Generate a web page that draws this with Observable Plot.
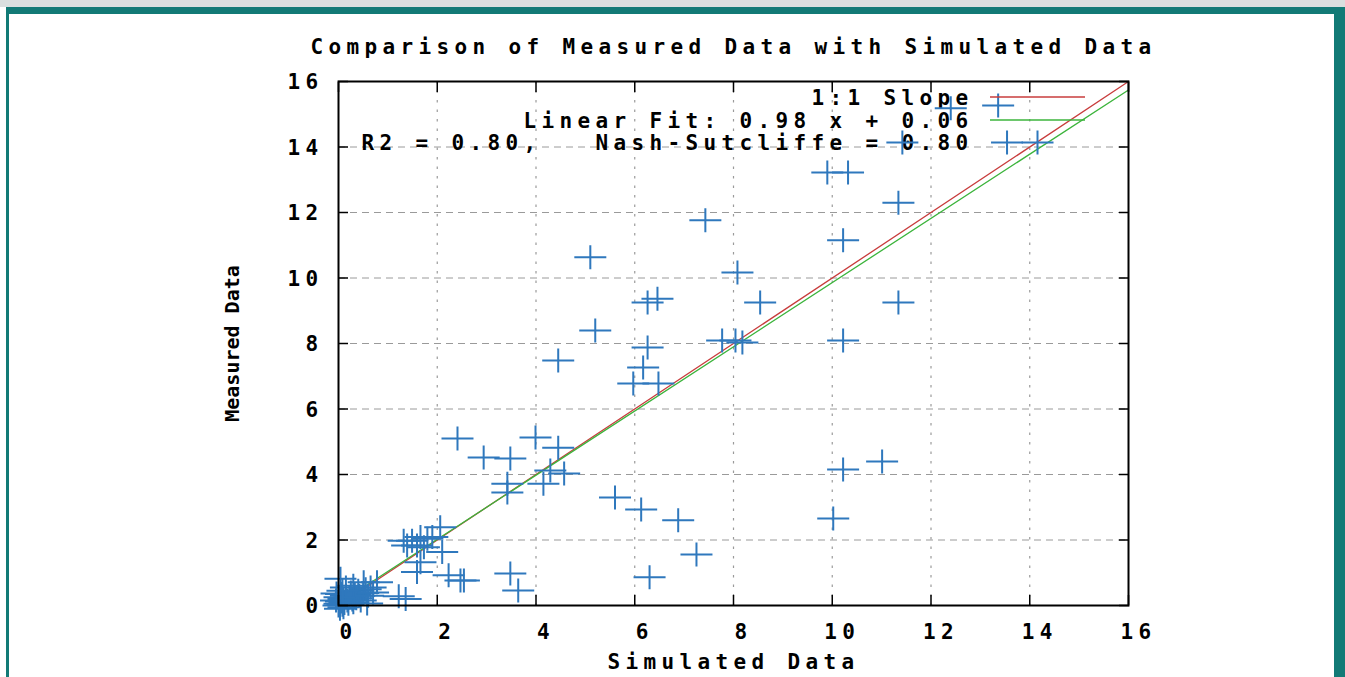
<!DOCTYPE html>
<html>
<head>
<meta charset="utf-8">
<script src="https://cdn.jsdelivr.net/npm/d3@7"></script>
<script src="https://cdn.jsdelivr.net/npm/@observablehq/plot@0.6"></script>
<style>
html,body{margin:0;padding:0;width:1345px;height:677px;overflow:hidden;background:#fff;}
#topbar{position:absolute;left:0;top:0;width:1345px;height:7px;background:#dadfdf;}
#border{position:absolute;left:6px;top:7px;width:1339px;height:670px;box-sizing:border-box;
  border-top:7px solid #127a76;border-left:3px solid #127a76;border-right:11px solid #127a76;background:#fff;}
#chart{position:absolute;left:0;top:0;}
svg text{white-space:pre;font-weight:bold;}
</style>
</head>
<body>
<div id="topbar"></div>
<div id="border"></div>
<div id="chart"></div>
<script>
// ---- data ----
const simulated = [
  12.40, 13.36, 11.42, 13.54, 9.90, 10.32, 11.34, 10.22, 7.43, 5.10,
  8.08, 8.54, 11.34, 6.26, 6.46, 5.20, 7.77, 8.04, 8.18, 10.22,
  4.45, 6.26, 6.17, 5.97, 6.48, 2.41, 3.99, 4.45, 2.94, 3.48,
  3.42, 3.42, 4.29, 4.15, 4.57, 5.60, 6.13, 6.88, 7.25, 6.30,
  10.02, 10.22, 11.01, 3.48, 3.64, 2.47,
  1.49, 1.66, 1.80, 1.90, 1.39, 1.59, 1.73, 2.06, 2.10, 1.66,
  1.59, 2.23, 2.54, 1.32,
  0.04, 0.51, 0.78, 0.58, 1.22, 1.36, -0.04, 0.02, 0.05, 0.08,
  0.10, 0.12, 0.15, 0.18, 0.20, 0.22, 0.25, 0.28, 0.30, 0.33,
  0.36, 0.40, 0.42, 0.45, 0.50, 0.55, 0.60, 0.65, 0.70, 0.05,
  0.00, 0.03, 0.10, -0.05, 0.15, 0.30, 0.02, 0.08
];
const measured = [
  15.18, 15.27, 14.14, 14.14, 13.22, 13.22, 12.30, 11.15, 11.76, 10.63,
  10.17, 9.25, 9.25, 9.25, 9.37, 8.40, 8.09, 8.09, 8.03, 8.09,
  7.48, 7.88, 7.27, 6.78, 6.78, 5.10, 5.13, 4.82, 4.52, 4.49,
  3.72, 3.45, 4.12, 3.72, 4.03, 3.30, 2.93, 2.60, 1.56, 0.86,
  2.66, 4.15, 4.40, 0.98, 0.46, 0.76,
  1.98, 2.09, 2.04, 2.09, 1.83, 1.83, 1.78, 2.39, 1.63, 1.32,
  1.02, 0.92, 0.76, 1.98,
  0.82, 0.71, 0.71, 0.06, 0.28, 0.20, 0.37, 0.05, 0.12, 0.02,
  0.20, 0.08, 0.30, 0.15, 0.05, 0.25, 0.40, 0.18, 0.10, 0.32,
  0.22, 0.45, 0.30, 0.15, 0.38, 0.50, 0.30, 0.55, 0.40, 0.35,
  0.00, -0.10, -0.05, 0.15, 0.55, 0.60, 0.25, 0.45
];
const xTicks = [0, 2, 4, 6, 8, 10, 12, 14, 16];
const yTicks = [0, 2, 4, 6, 8, 10, 12, 14, 16];
const gridTicks = [2, 4, 6, 8, 10, 12, 14];
const fitSlope = 0.98, fitIntercept = 0.06;
const r2 = "0.80", nashSutcliffe = "0.80";
const lineRange = [0, 16];
const titleText = "Comparison of Measured Data with Simulated Data";
const xLabel = "Simulated Data";
const yLabel = "Measured Data";
const legendLabels = [
  "1:1 Slope",
  `Linear Fit: ${fitSlope.toFixed(2)} x + ${fitIntercept.toFixed(2)}`,
  `R2 = ${r2},   Nash-Sutcliffe = ${nashSutcliffe}`
];

// ---- derived tables ----
const points = simulated.map((s, i) => ({sim: s, meas: measured[i]}));
const oneToOne = lineRange.map(x => ({x, y: x}));
const fitLine = lineRange.map(x => ({x, y: fitSlope * x + fitIntercept}));

const cross = {
  draw(context, size) {
    const r = Math.sqrt(size / Math.PI);
    context.moveTo(-r, 0); context.lineTo(r, 0);
    context.moveTo(0, -0.75 * r); context.lineTo(0, 0.75 * r);
  }
};
const blue = "#2f78bd", red = "#c83c3c", green = "#3cb43c";

const chart = Plot.plot({
  width: 1345, height: 677,
  marginLeft: 338, marginRight: 217, marginTop: 81, marginBottom: 72,
  x: {domain: [0, 16]},
  y: {domain: [0, 16]},
  style: {fontFamily: "'DejaVu Sans Mono', monospace", fontWeight: "bold", fontSize: "21px",
          letterSpacing: "5.36px", background: "transparent", color: "#000", overflow: "visible"},
  marks: [
    Plot.gridX(gridTicks, {stroke: "#9a9a9a", strokeOpacity: 1, strokeWidth: 1.2, strokeDasharray: "2.5,7"}),
    Plot.gridY(gridTicks, {stroke: "#9a9a9a", strokeOpacity: 1, strokeWidth: 1, strokeDasharray: "7,5"}),
    Plot.line(oneToOne, {x: "x", y: "y", stroke: red, strokeWidth: 1.3}),
    Plot.line(fitLine, {x: "x", y: "y", stroke: green, strokeWidth: 1.3}),
    Plot.text([legendLabels[0]], {text: d => d, frameAnchor: "top-right", textAnchor: "end", lineAnchor: "middle", dx: -155, dy: 17}),
    Plot.text([legendLabels[1]], {text: d => d, frameAnchor: "top-right", textAnchor: "end", lineAnchor: "middle", dx: -155, dy: 40}),
    Plot.text([legendLabels[2]], {text: d => d, frameAnchor: "top-right", textAnchor: "end", lineAnchor: "middle", dx: -155, dy: 62}),
    Plot.dot(points, {x: "sim", y: "meas", symbol: cross, r: 16, fill: "none", stroke: blue, strokeWidth: 2}),
    Plot.dot([0], {frameAnchor: "top-right", dx: -91, dy: 61, symbol: cross, r: 16, fill: "none", stroke: blue, strokeWidth: 2}),
    Plot.frame({stroke: "#000", strokeWidth: 2}),
    Plot.axisX({ticks: xTicks, anchor: "bottom", tickSize: -10, fill: "none", label: null, strokeWidth: 1.5}),
    Plot.axisX({ticks: xTicks, anchor: "top", tickSize: -10, fill: "none", label: null, strokeWidth: 1.5}),
    Plot.axisY({ticks: yTicks, anchor: "left", tickSize: -10, fill: "none", label: null, strokeWidth: 1.5}),
    Plot.axisY({ticks: yTicks, anchor: "right", tickSize: -10, fill: "none", label: null, strokeWidth: 1.5}),
    Plot.axisX({ticks: xTicks, anchor: "bottom", tickSize: 0, tickPadding: 19, label: null, dx: 10}),
    Plot.axisY({ticks: yTicks, anchor: "left", tickSize: 0, tickPadding: 15, label: null, dy: 1}),
    Plot.text([titleText], {text: d => d, frameAnchor: "top", lineAnchor: "middle", dy: -34, dx: 0}),
    Plot.text([xLabel], {text: d => d, frameAnchor: "bottom", lineAnchor: "middle", dy: 57}),
    Plot.text([yLabel], {text: d => d, frameAnchor: "left", textAnchor: "middle", lineAnchor: "middle", rotate: -90, dx: -106})
  ]
});
document.getElementById("chart").appendChild(chart);

// rotated y label is set without the wide letter spacing
d3.select(chart).selectAll("text").filter(function() { return this.textContent === yLabel; })
  .style("letter-spacing", "0px").style("font-size", "20px");

// legend sample lines (key glyphs)
const svgSel = d3.select(chart);
const frameRight = 1345 - 217, frameTop = 81;
[[red, 16], [green, 39]].forEach(([c, off]) => {
  svgSel.append("line").attr("x1", frameRight - 138).attr("x2", frameRight - 43)
    .attr("y1", frameTop + off).attr("y2", frameTop + off)
    .attr("stroke", c).attr("stroke-width", 1.5);
});
</script>
</body>
</html>
